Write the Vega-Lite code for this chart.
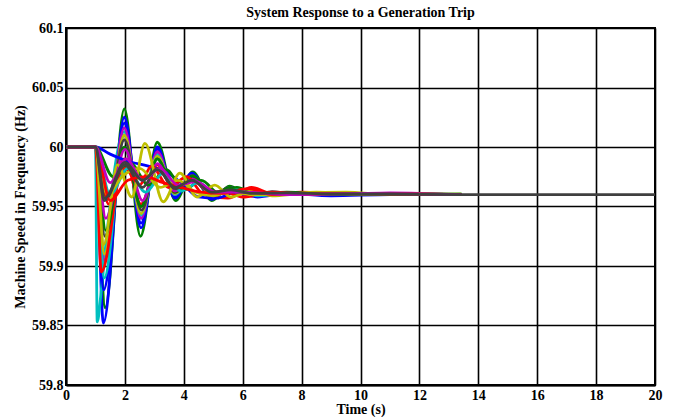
{
  "$schema": "https://vega.github.io/schema/vega-lite/v6.json",
  "autosize": {"type": "none"},
  "padding": {"left": 66, "top": 28, "right": 18, "bottom": 32},
  "width": 589,
  "height": 357,
  "background": "white",
  "title": {
    "text": "System Response to a Generation Trip",
    "font": "Liberation Serif",
    "fontSize": 14,
    "fontWeight": "bold",
    "color": "black",
    "anchor": "middle",
    "frame": "group",
    "offset": 1
  },
  "config": {
    "view": {"stroke": "black", "strokeWidth": 2},
    "axis": {
      "labelFont": "Liberation Serif",
      "labelFontSize": 14,
      "labelFontWeight": "bold",
      "labelColor": "black",
      "labelFlush": false,
      "titleFont": "Liberation Serif",
      "titleFontSize": 14,
      "titleFontWeight": "bold",
      "titleColor": "black",
      "grid": true,
      "gridColor": "black",
      "gridWidth": 1.6,
      "gridOpacity": 1,
      "ticks": false,
      "domain": true,
      "domainColor": "black",
      "domainWidth": 2
    }
  },
  "data": {
    "values": [
      {"s": "G1", "t": 0, "v": 60}, {"s": "G1", "t": 1, "v": 60}, {"s": "G1", "t": 1.33, "v": 59.865}, {"s": "G1", "t": 1.98, "v": 60.032}, {"s": "G1", "t": 2.53, "v": 59.925}, {"s": "G1", "t": 3.1, "v": 60.004}, {"s": "G1", "t": 3.72, "v": 59.955}, {"s": "G1", "t": 4.3, "v": 59.979}, {"s": "G1", "t": 4.95, "v": 59.955}, {"s": "G1", "t": 5.55, "v": 59.967}, {"s": "G1", "t": 6.15, "v": 59.96}, {"s": "G1", "t": 7, "v": 59.962}, {"s": "G1", "t": 8, "v": 59.961}, {"s": "G1", "t": 9.5, "v": 59.96}, {"s": "G1", "t": 11, "v": 59.961}, {"s": "G1", "t": 13.4, "v": 59.96},

      {"s": "B1", "t": 0, "v": 60}, {"s": "B1", "t": 1, "v": 60}, {"s": "B1", "t": 1.27, "v": 59.852}, {"s": "B1", "t": 1.98, "v": 60.025}, {"s": "B1", "t": 2.55, "v": 59.932}, {"s": "B1", "t": 3.1, "v": 60.0}, {"s": "B1", "t": 3.7, "v": 59.957}, {"s": "B1", "t": 4.27, "v": 59.978}, {"s": "B1", "t": 4.95, "v": 59.956}, {"s": "B1", "t": 5.55, "v": 59.966}, {"s": "B1", "t": 6.15, "v": 59.959}, {"s": "B1", "t": 7, "v": 59.962}, {"s": "B1", "t": 8, "v": 59.96}, {"s": "B1", "t": 9.5, "v": 59.961}, {"s": "B1", "t": 11, "v": 59.96}, {"s": "B1", "t": 13.4, "v": 59.96},

      {"s": "C1", "t": 0, "v": 60}, {"s": "C1", "t": 1, "v": 60}, {"s": "C1", "t": 1.06, "v": 59.853}, {"s": "C1", "t": 1.2, "v": 59.88}, {"s": "C1", "t": 1.4, "v": 59.93}, {"s": "C1", "t": 1.98, "v": 60.013}, {"s": "C1", "t": 2.55, "v": 59.94}, {"s": "C1", "t": 3.1, "v": 59.995}, {"s": "C1", "t": 3.7, "v": 59.959}, {"s": "C1", "t": 4.27, "v": 59.976}, {"s": "C1", "t": 4.95, "v": 59.958}, {"s": "C1", "t": 5.55, "v": 59.965}, {"s": "C1", "t": 6.15, "v": 59.96}, {"s": "C1", "t": 7, "v": 59.961}, {"s": "C1", "t": 8, "v": 59.9605}, {"s": "C1", "t": 9.5, "v": 59.961}, {"s": "C1", "t": 11, "v": 59.96}, {"s": "C1", "t": 13.4, "v": 59.96},

      {"s": "B3", "t": 0, "v": 60}, {"s": "B3", "t": 1, "v": 60}, {"s": "B3", "t": 1.28, "v": 59.88}, {"s": "B3", "t": 1.98, "v": 60.02}, {"s": "B3", "t": 2.55, "v": 59.936}, {"s": "B3", "t": 3.1, "v": 59.998}, {"s": "B3", "t": 3.7, "v": 59.958}, {"s": "B3", "t": 4.27, "v": 59.977}, {"s": "B3", "t": 4.95, "v": 59.957}, {"s": "B3", "t": 5.55, "v": 59.966}, {"s": "B3", "t": 6.15, "v": 59.96}, {"s": "B3", "t": 7, "v": 59.961}, {"s": "B3", "t": 8, "v": 59.9605}, {"s": "B3", "t": 10, "v": 59.961}, {"s": "B3", "t": 13.4, "v": 59.96},

      {"s": "M1", "t": 0, "v": 60}, {"s": "M1", "t": 1, "v": 60}, {"s": "M1", "t": 1.3, "v": 59.905}, {"s": "M1", "t": 1.98, "v": 60.016}, {"s": "M1", "t": 2.55, "v": 59.94}, {"s": "M1", "t": 3.1, "v": 59.996}, {"s": "M1", "t": 3.7, "v": 59.96}, {"s": "M1", "t": 4.27, "v": 59.976}, {"s": "M1", "t": 4.95, "v": 59.958}, {"s": "M1", "t": 5.55, "v": 59.966}, {"s": "M1", "t": 6.15, "v": 59.96}, {"s": "M1", "t": 7, "v": 59.962}, {"s": "M1", "t": 8, "v": 59.961}, {"s": "M1", "t": 9.5, "v": 59.9605}, {"s": "M1", "t": 11, "v": 59.9615}, {"s": "M1", "t": 13.4, "v": 59.96},

      {"s": "C3", "t": 0, "v": 60}, {"s": "C3", "t": 1, "v": 60}, {"s": "C3", "t": 1.3, "v": 59.89}, {"s": "C3", "t": 1.98, "v": 60.01}, {"s": "C3", "t": 2.55, "v": 59.943}, {"s": "C3", "t": 3.1, "v": 59.993}, {"s": "C3", "t": 3.7, "v": 59.96}, {"s": "C3", "t": 4.27, "v": 59.975}, {"s": "C3", "t": 4.95, "v": 59.958}, {"s": "C3", "t": 5.55, "v": 59.965}, {"s": "C3", "t": 6.15, "v": 59.96}, {"s": "C3", "t": 7, "v": 59.9615}, {"s": "C3", "t": 8.5, "v": 59.9605}, {"s": "C3", "t": 10, "v": 59.961}, {"s": "C3", "t": 13.4, "v": 59.96},

      {"s": "Y3", "t": 0, "v": 60}, {"s": "Y3", "t": 1, "v": 60}, {"s": "Y3", "t": 1.3, "v": 59.91}, {"s": "Y3", "t": 1.98, "v": 60.01}, {"s": "Y3", "t": 2.55, "v": 59.944}, {"s": "Y3", "t": 3.1, "v": 59.992}, {"s": "Y3", "t": 3.7, "v": 59.961}, {"s": "Y3", "t": 4.27, "v": 59.974}, {"s": "Y3", "t": 4.95, "v": 59.959}, {"s": "Y3", "t": 5.55, "v": 59.965}, {"s": "Y3", "t": 6.15, "v": 59.96}, {"s": "Y3", "t": 7, "v": 59.961}, {"s": "Y3", "t": 9, "v": 59.9605}, {"s": "Y3", "t": 13.4, "v": 59.96},

      {"s": "R1", "t": 0, "v": 60}, {"s": "R1", "t": 1, "v": 60}, {"s": "R1", "t": 1.2, "v": 59.895}, {"s": "R1", "t": 1.98, "v": 59.99}, {"s": "R1", "t": 2.55, "v": 59.952}, {"s": "R1", "t": 3.1, "v": 59.985}, {"s": "R1", "t": 3.7, "v": 59.962}, {"s": "R1", "t": 4.3, "v": 59.972}, {"s": "R1", "t": 4.95, "v": 59.959}, {"s": "R1", "t": 5.5, "v": 59.957}, {"s": "R1", "t": 6.3, "v": 59.966}, {"s": "R1", "t": 7, "v": 59.961}, {"s": "R1", "t": 8, "v": 59.962}, {"s": "R1", "t": 9.5, "v": 59.96}, {"s": "R1", "t": 11, "v": 59.9605}, {"s": "R1", "t": 13.4, "v": 59.96},

      {"s": "K1", "t": 0, "v": 60}, {"s": "K1", "t": 1, "v": 60}, {"s": "K1", "t": 1.32, "v": 59.925}, {"s": "K1", "t": 1.98, "v": 60.006}, {"s": "K1", "t": 2.57, "v": 59.947}, {"s": "K1", "t": 3.1, "v": 59.99}, {"s": "K1", "t": 3.7, "v": 59.962}, {"s": "K1", "t": 4.27, "v": 59.974}, {"s": "K1", "t": 4.95, "v": 59.959}, {"s": "K1", "t": 5.55, "v": 59.965}, {"s": "K1", "t": 6.15, "v": 59.96}, {"s": "K1", "t": 7, "v": 59.962}, {"s": "K1", "t": 8, "v": 59.961}, {"s": "K1", "t": 9.5, "v": 59.9605}, {"s": "K1", "t": 11, "v": 59.961}, {"s": "K1", "t": 13.4, "v": 59.96},

      {"s": "G3", "t": 0, "v": 60}, {"s": "G3", "t": 1, "v": 60}, {"s": "G3", "t": 1.35, "v": 59.93}, {"s": "G3", "t": 1.98, "v": 60.0}, {"s": "G3", "t": 2.55, "v": 59.95}, {"s": "G3", "t": 3.1, "v": 59.99}, {"s": "G3", "t": 3.7, "v": 59.962}, {"s": "G3", "t": 4.3, "v": 59.976}, {"s": "G3", "t": 4.95, "v": 59.958}, {"s": "G3", "t": 5.55, "v": 59.966}, {"s": "G3", "t": 6.2, "v": 59.96}, {"s": "G3", "t": 7, "v": 59.962}, {"s": "G3", "t": 8.5, "v": 59.96}, {"s": "G3", "t": 10, "v": 59.961}, {"s": "G3", "t": 13.4, "v": 59.96},

      {"s": "M2", "t": 0, "v": 60}, {"s": "M2", "t": 1, "v": 60}, {"s": "M2", "t": 1.35, "v": 59.94}, {"s": "M2", "t": 2.0, "v": 59.998}, {"s": "M2", "t": 2.6, "v": 59.955}, {"s": "M2", "t": 3.1, "v": 59.986}, {"s": "M2", "t": 3.7, "v": 59.963}, {"s": "M2", "t": 4.3, "v": 59.973}, {"s": "M2", "t": 4.95, "v": 59.96}, {"s": "M2", "t": 5.6, "v": 59.964}, {"s": "M2", "t": 6.2, "v": 59.96}, {"s": "M2", "t": 7, "v": 59.961}, {"s": "M2", "t": 8.5, "v": 59.9605}, {"s": "M2", "t": 10, "v": 59.961}, {"s": "M2", "t": 13.4, "v": 59.96},

      {"s": "B2", "t": 0, "v": 60}, {"s": "B2", "t": 1, "v": 60}, {"s": "B2", "t": 1.5, "v": 59.994}, {"s": "B2", "t": 2.1, "v": 59.988}, {"s": "B2", "t": 2.8, "v": 59.984}, {"s": "B2", "t": 3.4, "v": 59.979}, {"s": "B2", "t": 4.0, "v": 59.968}, {"s": "B2", "t": 4.5, "v": 59.958}, {"s": "B2", "t": 5.1, "v": 59.957}, {"s": "B2", "t": 5.8, "v": 59.962}, {"s": "B2", "t": 6.5, "v": 59.958}, {"s": "B2", "t": 7.5, "v": 59.961}, {"s": "B2", "t": 9, "v": 59.959}, {"s": "B2", "t": 11, "v": 59.96}, {"s": "B2", "t": 13.4, "v": 59.96},

      {"s": "G2", "t": 0, "v": 60}, {"s": "G2", "t": 1, "v": 60}, {"s": "G2", "t": 1.6, "v": 59.975}, {"s": "G2", "t": 2.2, "v": 59.986}, {"s": "G2", "t": 2.8, "v": 59.968}, {"s": "G2", "t": 3.4, "v": 59.981}, {"s": "G2", "t": 4.0, "v": 59.964}, {"s": "G2", "t": 4.6, "v": 59.972}, {"s": "G2", "t": 5.2, "v": 59.961}, {"s": "G2", "t": 5.8, "v": 59.966}, {"s": "G2", "t": 6.5, "v": 59.96}, {"s": "G2", "t": 7.5, "v": 59.962}, {"s": "G2", "t": 9, "v": 59.96}, {"s": "G2", "t": 11, "v": 59.9605}, {"s": "G2", "t": 13.4, "v": 59.96},

      {"s": "R2", "t": 0, "v": 60}, {"s": "R2", "t": 1, "v": 60}, {"s": "R2", "t": 1.45, "v": 59.952}, {"s": "R2", "t": 2.0, "v": 59.982}, {"s": "R2", "t": 2.5, "v": 59.968}, {"s": "R2", "t": 2.9, "v": 59.984}, {"s": "R2", "t": 3.5, "v": 59.966}, {"s": "R2", "t": 4.1, "v": 59.975}, {"s": "R2", "t": 4.7, "v": 59.96}, {"s": "R2", "t": 5.3, "v": 59.963}, {"s": "R2", "t": 6, "v": 59.958}, {"s": "R2", "t": 7, "v": 59.962}, {"s": "R2", "t": 8.5, "v": 59.96}, {"s": "R2", "t": 10, "v": 59.961}, {"s": "R2", "t": 13.4, "v": 59.96},

      {"s": "C2", "t": 0, "v": 60}, {"s": "C2", "t": 1, "v": 60}, {"s": "C2", "t": 1.5, "v": 59.96}, {"s": "C2", "t": 2.1, "v": 59.982}, {"s": "C2", "t": 2.7, "v": 59.962}, {"s": "C2", "t": 3.3, "v": 59.978}, {"s": "C2", "t": 3.9, "v": 59.963}, {"s": "C2", "t": 4.5, "v": 59.97}, {"s": "C2", "t": 5.1, "v": 59.96}, {"s": "C2", "t": 5.8, "v": 59.964}, {"s": "C2", "t": 6.5, "v": 59.959}, {"s": "C2", "t": 7.5, "v": 59.961}, {"s": "C2", "t": 9, "v": 59.9605}, {"s": "C2", "t": 11, "v": 59.96}, {"s": "C2", "t": 13.4, "v": 59.9605},

      {"s": "Y2", "t": 0, "v": 60}, {"s": "Y2", "t": 1, "v": 60}, {"s": "Y2", "t": 1.4, "v": 59.96}, {"s": "Y2", "t": 1.9, "v": 59.975}, {"s": "Y2", "t": 2.5, "v": 59.982}, {"s": "Y2", "t": 3.2, "v": 59.966}, {"s": "Y2", "t": 3.8, "v": 59.972}, {"s": "Y2", "t": 4.4, "v": 59.962}, {"s": "Y2", "t": 5.0, "v": 59.959}, {"s": "Y2", "t": 5.6, "v": 59.963}, {"s": "Y2", "t": 6.3, "v": 59.96}, {"s": "Y2", "t": 7.3, "v": 59.96}, {"s": "Y2", "t": 8.5, "v": 59.962}, {"s": "Y2", "t": 10, "v": 59.96}, {"s": "Y2", "t": 13.4, "v": 59.9605},

      {"s": "Y1", "t": 0, "v": 60}, {"s": "Y1", "t": 1, "v": 60}, {"s": "Y1", "t": 1.28, "v": 59.918}, {"s": "Y1", "t": 1.75, "v": 59.985}, {"s": "Y1", "t": 2.23, "v": 59.958}, {"s": "Y1", "t": 2.68, "v": 60.003}, {"s": "Y1", "t": 3.3, "v": 59.954}, {"s": "Y1", "t": 3.87, "v": 59.978}, {"s": "Y1", "t": 4.45, "v": 59.958}, {"s": "Y1", "t": 5.05, "v": 59.968}, {"s": "Y1", "t": 5.6, "v": 59.958}, {"s": "Y1", "t": 6.3, "v": 59.963}, {"s": "Y1", "t": 7, "v": 59.959}, {"s": "Y1", "t": 8, "v": 59.961}, {"s": "Y1", "t": 9.5, "v": 59.962}, {"s": "Y1", "t": 11, "v": 59.96}, {"s": "Y1", "t": 13.4, "v": 59.96},

      {"s": "K2", "t": 0, "v": 60}, {"s": "K2", "t": 1, "v": 60}, {"s": "K2", "t": 1.3, "v": 59.955}, {"s": "K2", "t": 2.0, "v": 59.985}, {"s": "K2", "t": 2.6, "v": 59.966}, {"s": "K2", "t": 3.1, "v": 59.982}, {"s": "K2", "t": 3.7, "v": 59.965}, {"s": "K2", "t": 4.3, "v": 59.972}, {"s": "K2", "t": 5, "v": 59.962}, {"s": "K2", "t": 6, "v": 59.962}, {"s": "K2", "t": 7, "v": 59.961}, {"s": "K2", "t": 9, "v": 59.9605}, {"s": "K2", "t": 13.4, "v": 59.96},

      {"s": "R3", "t": 0, "v": 60}, {"s": "R3", "t": 1, "v": 60}, {"s": "R3", "t": 1.5, "v": 59.955}, {"s": "R3", "t": 2.1, "v": 59.972}, {"s": "R3", "t": 2.7, "v": 59.975}, {"s": "R3", "t": 3.3, "v": 59.97}, {"s": "R3", "t": 3.9, "v": 59.966}, {"s": "R3", "t": 4.6, "v": 59.962}, {"s": "R3", "t": 5.3, "v": 59.961}, {"s": "R3", "t": 6.2, "v": 59.965}, {"s": "R3", "t": 7, "v": 59.96}, {"s": "R3", "t": 9, "v": 59.961}, {"s": "R3", "t": 13.4, "v": 59.96},

      {"s": "M3", "t": 0, "v": 60}, {"s": "M3", "t": 1, "v": 60}, {"s": "M3", "t": 1.5, "v": 59.97}, {"s": "M3", "t": 2.05, "v": 59.99}, {"s": "M3", "t": 2.6, "v": 59.972}, {"s": "M3", "t": 3.2, "v": 59.982}, {"s": "M3", "t": 3.8, "v": 59.968}, {"s": "M3", "t": 4.4, "v": 59.971}, {"s": "M3", "t": 5.1, "v": 59.962}, {"s": "M3", "t": 6, "v": 59.962}, {"s": "M3", "t": 7.5, "v": 59.96}, {"s": "M3", "t": 10, "v": 59.961}, {"s": "M3", "t": 13.4, "v": 59.96},

      {"s": "K3", "t": 0, "v": 60}, {"s": "K3", "t": 1, "v": 60}, {"s": "K3", "t": 1.32, "v": 59.957}, {"s": "K3", "t": 2.0, "v": 59.987}, {"s": "K3", "t": 2.6, "v": 59.972}, {"s": "K3", "t": 3.1, "v": 59.981}, {"s": "K3", "t": 3.7, "v": 59.966}, {"s": "K3", "t": 4.27, "v": 59.972}, {"s": "K3", "t": 4.95, "v": 59.962}, {"s": "K3", "t": 5.6, "v": 59.964}, {"s": "K3", "t": 6.3, "v": 59.961}, {"s": "K3", "t": 7.5, "v": 59.9615}, {"s": "K3", "t": 9, "v": 59.9605}, {"s": "K3", "t": 11, "v": 59.9605}, {"s": "K3", "t": 13.4, "v": 59.96}, {"s": "K3", "t": 16, "v": 59.96}, {"s": "K3", "t": 20, "v": 59.96}
    ]
  },
  "mark": {
    "type": "line",
    "interpolate": "monotone",
    "strokeWidth": 2.8,
    "strokeJoin": "round",
    "strokeCap": "round",
    "clip": true
  },
  "encoding": {
    "x": {
      "field": "t",
      "type": "quantitative",
      "scale": {"domain": [0, 20], "nice": false, "zero": false},
      "axis": {
        "title": "Time (s)",
        "values": [0, 2, 4, 6, 8, 10, 12, 14, 16, 18, 20],
        "format": "d",
        "labelPadding": 3,
        "titlePadding": 0
      }
    },
    "y": {
      "field": "v",
      "type": "quantitative",
      "scale": {"domain": [59.8, 60.1], "nice": false, "zero": false},
      "axis": {
        "title": "Machine Speed in Frequency (Hz)",
        "values": [59.8, 59.85, 59.9, 59.95, 60, 60.05, 60.1],
        "format": "~g",
        "labelPadding": 3,
        "titlePadding": 4
      }
    },
    "color": {
      "field": "s",
      "type": "nominal",
      "legend": null,
      "scale": {
        "domain": ["G1", "B1", "C1", "B3", "M1", "C3", "Y3", "R1", "K1", "G3", "M2", "B2", "G2", "R2", "C2", "Y2", "Y1", "K2", "R3", "M3", "K3"],
        "range": ["#008000", "#0000ff", "#00bfbf", "#0000ff", "#bf00bf", "#00bfbf", "#bfbf00", "#ff0000", "#404040", "#008000", "#bf00bf", "#0000ff", "#008000", "#ff0000", "#00bfbf", "#bfbf00", "#bfbf00", "#404040", "#ff0000", "#bf00bf", "#404040"]
      }
    }
  }
}
